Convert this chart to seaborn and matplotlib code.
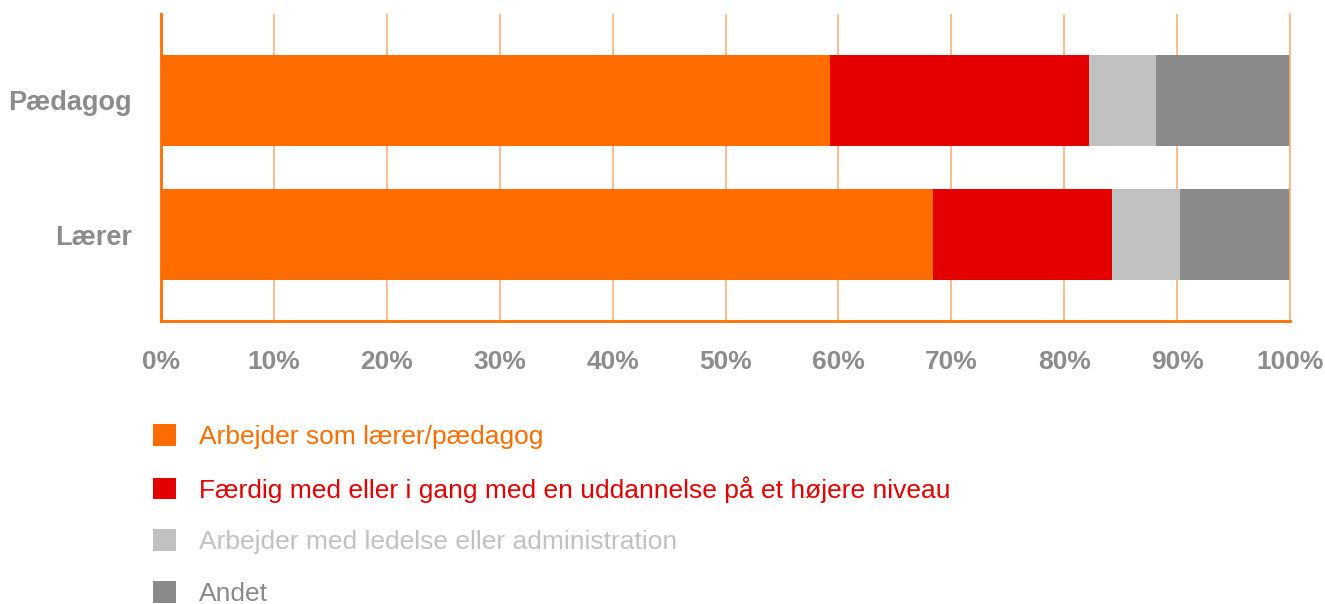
import numpy as np
import pandas as pd
import matplotlib.pyplot as plt
from matplotlib.patches import Patch
import seaborn as sns

groups = ["Pædagog", "Lærer"]
categories = ["Arbejder som lærer/pædagog",
              "Færdig med eller i gang med en uddannelse på et højere niveau",
              "Arbejder med ledelse eller administration",
              "Andet"]
paedagog = [59.3, 22.9, 5.9, 11.9]
laerer = [68.4, 15.8, 6.1, 9.7]
colors = ["#ff6d00", "#e50000", "#c1c1c1", "#8a8a8a"]
ticks = list(range(0, 101, 10))

sns.set_style("white")
plt.rcParams['font.family'] = ['Liberation Sans', 'DejaVu Sans']

df = pd.DataFrame([paedagog, laerer], index=groups, columns=categories)
cum = df.cumsum(axis=1)

fig = plt.figure(figsize=(13.25, 6.04), dpi=100)
ax = fig.add_axes([161 / 1325, 1 - 321 / 604, (1290 - 161) / 1325, (321 - 14) / 604])

# stacked bars: draw cumulative totals from the back to the front
for cat, col in reversed(list(zip(categories, colors))):
    sns.barplot(x=cum[cat].values, y=groups, color=col, width=0.68,
                orient='h', saturation=1, linewidth=0, ax=ax, zorder=2)

ax.set_xlim(0, 100)
ax.set_ylim(1.645, -0.645)
ax.set_xticks(ticks)
ax.set_xticklabels([f"{t}%" for t in ticks])
ax.xaxis.grid(True, color='#ffb07a', lw=1.2, zorder=0)
ax.yaxis.grid(False)
ax.set_axisbelow(True)
ax.set_xlabel("")
ax.set_ylabel("")

ax.spines['top'].set_visible(False)
ax.spines['right'].set_color('#ffb07a')
ax.spines['right'].set_linewidth(1.2)
for s in ['left', 'bottom']:
    ax.spines[s].set_color('#ff6d00')
    ax.spines[s].set_linewidth(2)

ax.tick_params(axis='x', length=0, pad=21, labelsize=19, labelcolor='#8c8c8c')
ax.tick_params(axis='y', length=0, pad=21, labelsize=19.5, labelcolor='#8c8c8c')
for lbl in ax.get_xticklabels() + ax.get_yticklabels():
    lbl.set_fontweight('bold')

handles = [Patch(facecolor=c, edgecolor='none') for c in colors]
fig.legend(handles, categories, loc='upper left',
           bbox_to_anchor=(153 / 1325, 1 - 424 / 604),
           frameon=False, fontsize=19, handlelength=0.88, handleheight=0.88,
           handletextpad=0.85, labelspacing=1.02, borderpad=0, borderaxespad=0,
           labelcolor=colors)

fig.savefig("out.png", dpi=100)
